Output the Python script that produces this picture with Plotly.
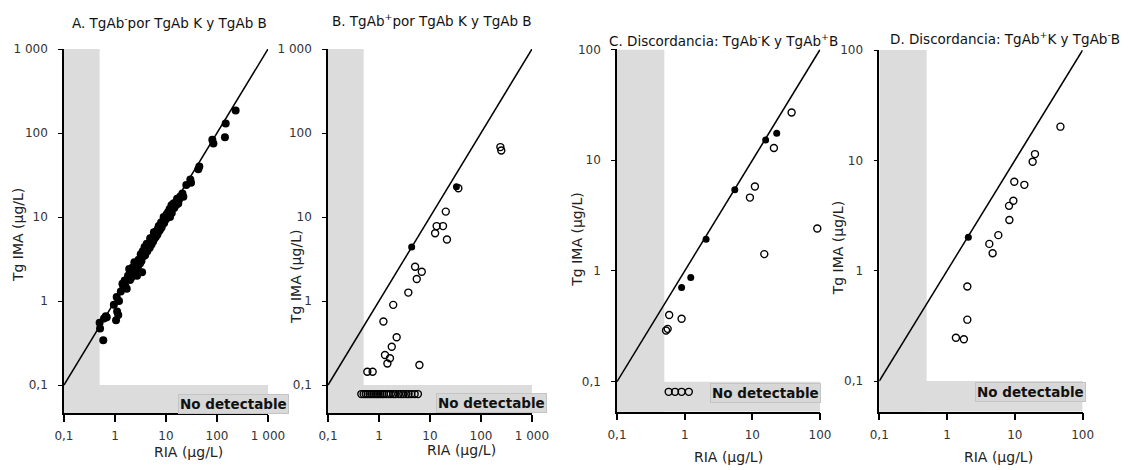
import plotly.graph_objects as go

FONT = "DejaVu Sans"
LOD_X = 0.5      # detection limit RIA
LOD_Y = 0.1      # detection limit Tg IMA

# ---------------- Panel A (TgAb- both) : filled points ----------------
A_x = [0.59, 0.51, 0.61, 0.69, 0.66, 1.05, 1.16, 1.10, 0.95, 1.08, 1.20, 1.30, 1.46, 1.40, 1.60,
       1.70, 1.55, 1.97, 1.80, 2.10, 2.00, 2.30, 2.20, 2.50, 2.60, 2.40, 3.10, 2.90, 2.80, 3.30,
       3.60, 3.20, 3.50, 3.90, 4.00, 3.80, 4.30, 4.50, 4.20, 4.80, 5.00, 5.20, 4.90, 5.60, 5.50,
       5.90, 6.00, 6.30, 6.50, 5.80, 6.80, 7.00, 7.30, 7.60, 7.20, 7.80, 8.20, 8.00, 8.60, 8.80,
       9.20, 9.50, 9.00, 10.0, 10.3, 10.8, 11.0, 11.5, 12.0, 11.8, 12.5, 13.0, 13.5, 12.8, 14.0,
       14.5, 15.0, 15.5, 16.0, 17.4, 16.5, 18.0, 19.0, 21.9, 21.0, 25.0, 31.0, 30.0, 43.0, 45.0,
       81.0, 85.0, 143, 148, 232, 3.4, 2.7, 1.9, 0.50]
A_y = [0.34, 0.47, 0.62, 0.64, 0.66, 0.59, 0.68, 0.75, 0.90, 1.12, 1.00, 1.30, 1.48, 1.60, 1.50,
       1.40, 1.75, 1.78, 2.00, 1.90, 2.20, 2.10, 2.50, 2.30, 2.70, 2.90, 2.80, 3.10, 2.50, 3.00,
       3.40, 3.60, 3.90, 3.50, 4.10, 4.40, 3.90, 4.60, 4.80, 4.30, 5.20, 4.70, 5.60, 5.10, 5.80,
       5.50, 6.30, 5.80, 6.80, 6.60, 6.20, 7.30, 6.80, 7.00, 7.80, 8.00, 7.50, 8.60, 8.20, 9.00,
       8.50, 9.80, 10.0, 9.40, 10.8, 10.2, 11.5, 10.8, 10.0, 12.5, 12.0, 11.2, 13.0, 13.8, 14.5,
       12.8, 13.5, 15.0, 14.0, 14.5, 16.5, 16.0, 17.5, 17.4, 19.0, 24.0, 25.6, 28.0, 37.0, 40.0,
       83.0, 75.0, 89, 130, 185, 2.2, 2.0, 2.4, 0.55]

# ---------------- Panel B (TgAb+ both) ----------------
B_open_x = [240, 250, 36, 20.4, 13.5, 18, 12.6, 21.5, 5.1, 6.9, 5.5, 3.76, 1.9, 1.22, 2.22,
            1.78, 1.31, 1.64, 1.46, 6.2, 0.59, 0.75]
B_open_y = [68, 62, 22, 11.6, 7.8, 7.8, 6.4, 5.4, 2.56, 2.23, 1.83, 1.26, 0.9, 0.57, 0.37,
            0.286, 0.228, 0.208, 0.18, 0.173, 0.144, 0.144]
B_filled_x = [33, 4.37]
B_filled_y = [23, 4.4]
B_nd_x = [0.45, 0.50, 0.55, 0.60, 0.66, 0.72, 0.80, 0.88, 0.96, 1.05, 1.15, 1.25, 1.40, 1.55,
          1.70, 1.90, 2.10, 2.40, 2.70, 3.00, 3.40, 3.80, 4.30, 5.00, 5.80]
B_nd_y = 0.078

# ---------------- Panel C (TgAb- K, TgAb+ B) ----------------
C_open_x = [38, 20.8, 10.9, 9.2, 91, 15, 0.59, 0.9, 0.53, 0.56]
C_open_y = [27, 12.9, 5.8, 4.6, 2.42, 1.42, 0.40, 0.37, 0.29, 0.30]
C_filled_x = [22.9, 15.7, 5.5, 2.07, 1.23, 0.9]
C_filled_y = [17.5, 15.2, 5.4, 1.93, 0.875, 0.71]
C_nd_x = [0.58, 0.72, 0.90, 1.15]
C_nd_y = 0.081

# ---------------- Panel D (TgAb+ K, TgAb- B) ----------------
D_open_x = [47, 19.8, 18.3, 9.8, 13.8, 9.5, 8.2, 8.3, 5.7, 4.2, 4.7, 1.99, 1.99, 1.35, 1.77]
D_open_y = [20.2, 11.4, 9.7, 6.4, 6.0, 4.3, 3.87, 2.88, 2.1, 1.75, 1.44, 0.72, 0.36, 0.247, 0.239]
D_filled_x = [2.06]
D_filled_y = [2.01]

TITLES = ["A. TgAb<sup>-</sup>por TgAb K y TgAb B",
          "B. TgAb<sup>+</sup>por TgAb K y TgAb B",
          "C. Discordancia: TgAb<sup>-</sup>K y TgAb<sup>+</sup>B",
          "D. Discordancia: TgAb<sup>+</sup>K y TgAb<sup>-</sup>B"]
X_TITLE = "RIA (µg/L)"
Y_TITLE = "Tg IMA (µg/L)"
ND_TEXT = "No detectable"

TICKS_4 = [0.1, 1, 10, 100, 1000]
TICKTEXT_4 = ["0,1", "1", "10", "100", "1 000"]
TICKS_3 = [0.1, 1, 10, 100]
TICKTEXT_3 = ["0,1", "1", "10", "100"]

# layout geometry per panel
panels = [
    dict(xd=[0.0567, 0.2376], yd=[0.1213, 0.8957], xr=[-1, 3], yr=[-1.333, 3], xmax=1000,
         ticks=(TICKS_4, TICKTEXT_4), title=(0.1507, 0.953), ytitle=(0.016, 0.50),
         xtitle=(0.1667, 0.038), nd=(0.2066, 0.1404)),
    dict(xd=[0.2908, 0.4716], yd=[0.1213, 0.8957], xr=[-1, 3], yr=[-1.333, 3], xmax=1000,
         ticks=(TICKS_4, TICKTEXT_4), title=(0.383, 0.957), ytitle=(0.263, 0.41),
         xtitle=(0.4087, 0.0426), nd=(0.4353, 0.1426)),
    dict(xd=[0.547, 0.727], yd=[0.124, 0.8947], xr=[-1, 2], yr=[-1.271, 2], xmax=100,
         ticks=(TICKS_3, TICKTEXT_3), title=(0.641, 0.915), ytitle=(0.512, 0.489),
         xtitle=(0.6454, 0.0277), nd=(0.6782, 0.1638)),
    dict(xd=[0.7795, 0.9598], yd=[0.124, 0.8936], xr=[-1, 2], yr=[-1.278, 2], xmax=100,
         ticks=(TICKS_3, TICKTEXT_3), title=(0.891, 0.919), ytitle=(0.743, 0.472),
         xtitle=(0.8856, 0.0277), nd=(0.914, 0.166)),
]

fig = go.Figure()

def mk(i):
    s = "" if i == 0 else str(i + 1)
    return "x" + s, "y" + s

FILLED_A = dict(symbol="circle", size=8, color="black", line=dict(width=0))
FILLED = dict(symbol="circle", size=7, color="black", line=dict(width=0))
OPEN = dict(symbol="circle-open", size=7, color="black", line=dict(width=1.4))

series = [
    [(A_x, A_y, FILLED_A)],
    [(B_open_x, B_open_y, OPEN), (B_filled_x, B_filled_y, FILLED),
     (B_nd_x, [B_nd_y] * len(B_nd_x), OPEN)],
    [(C_open_x, C_open_y, OPEN), (C_filled_x, C_filled_y, FILLED),
     (C_nd_x, [C_nd_y] * len(C_nd_x), OPEN)],
    [(D_open_x, D_open_y, OPEN), (D_filled_x, D_filled_y, FILLED)],
]

GRAY = "#dcdcdc"
annotations = []
shapes = []
for i, p in enumerate(panels):
    xa, ya = mk(i)
    # identity line
    fig.add_trace(go.Scatter(x=[LOD_Y, p["xmax"]], y=[LOD_Y, p["xmax"]], mode="lines",
                             line=dict(color="black", width=1.5), xaxis=xa, yaxis=ya,
                             showlegend=False, hoverinfo="skip"))
    for (xs, ys, mstyle) in series[i]:
        fig.add_trace(go.Scatter(x=xs, y=ys, mode="markers", marker=mstyle,
                                 xaxis=xa, yaxis=ya, showlegend=False, cliponaxis=False))
    ymin = 10 ** p["yr"][0]
    ymax = 10 ** p["yr"][1]
    shapes.append(dict(type="rect", xref=xa, yref=ya, x0=10 ** p["xr"][0], x1=LOD_X,
                       y0=ymin, y1=ymax, fillcolor=GRAY, line=dict(width=0), layer="below"))
    shapes.append(dict(type="rect", xref=xa, yref=ya, x0=10 ** p["xr"][0], x1=p["xmax"],
                       y0=ymin, y1=LOD_Y, fillcolor=GRAY, line=dict(width=0), layer="below"))

    s = "" if i == 0 else str(i + 1)
    tv, tt = p["ticks"]
    fig.layout["xaxis" + s] = dict(domain=p["xd"], anchor=ya, type="log", range=p["xr"],
                                   automargin=False,
                                   showgrid=False, zeroline=False, showline=True,
                                   linecolor="black", linewidth=1.5, ticks="outside",
                                   ticklen=7, tickwidth=1.5, tickcolor="black",
                                   tickvals=tv, ticktext=tt, ticklabelstandoff=4,
                                   tickfont=dict(family=FONT, size=12, color="#333"))
    fig.layout["yaxis" + s] = dict(domain=p["yd"], anchor=xa, type="log", range=p["yr"],
                                   automargin=False,
                                   showgrid=False, zeroline=False, showline=True,
                                   linecolor="black", linewidth=1.5, ticks="outside",
                                   ticklen=4, tickwidth=1, tickcolor="black",
                                   tickvals=tv, ticktext=tt, ticklabelstandoff=8,
                                   tickfont=dict(family=FONT, size=12, color="#333"))

    annotations.append(dict(text=TITLES[i], x=p["title"][0], y=p["title"][1], xref="paper",
                            yref="paper", showarrow=False, xanchor="center", yanchor="middle",
                            font=dict(family=FONT, size=13.5, color="#111")))
    annotations.append(dict(text=Y_TITLE, x=p["ytitle"][0], y=p["ytitle"][1], xref="paper",
                            yref="paper", showarrow=False, textangle=-90, xanchor="center",
                            yanchor="middle", font=dict(family=FONT, size=14, color="#222")))
    annotations.append(dict(text=X_TITLE, x=p["xtitle"][0], y=p["xtitle"][1], xref="paper",
                            yref="paper", showarrow=False, xanchor="center", yanchor="middle",
                            font=dict(family=FONT, size=14, color="#222")))
    annotations.append(dict(text="<b>" + ND_TEXT + "</b>", x=p["nd"][0], y=p["nd"][1],
                            xref="paper", yref="paper", showarrow=False, xanchor="center",
                            yanchor="middle", bgcolor="rgba(214,214,214,0.92)",
                            bordercolor="#c4c4c4", borderwidth=1, borderpad=1,
                            font=dict(family=FONT, size=13.5, color="#111")))

fig.update_layout(width=1128, height=470, autosize=False,
                  margin=dict(l=0, r=0, t=0, b=0),
                  paper_bgcolor="white", plot_bgcolor="white",
                  shapes=shapes, annotations=annotations, showlegend=False)

fig.write_html("out.html")
